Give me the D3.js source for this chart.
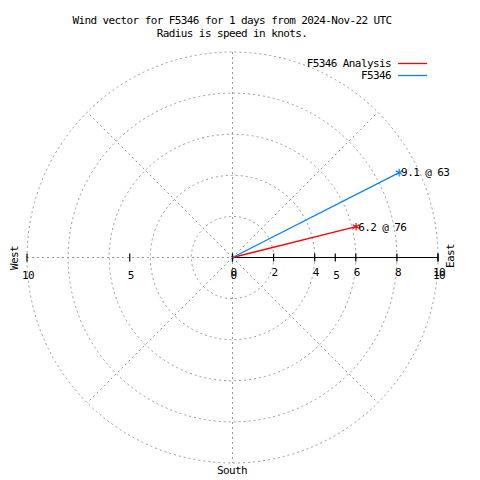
<!DOCTYPE html>
<html><head><meta charset="utf-8">
<script src="https://cdn.jsdelivr.net/npm/d3@7"></script>
<style>
body{margin:0;background:#fff;}
text{font-family:"DejaVu Sans Mono","Liberation Mono",monospace;font-size:11px;letter-spacing:-0.6px;fill:#000;}
</style></head>
<body><svg id="c" width="480" height="480"></svg>
<script>
const titleLines = ["Wind vector for F5346 for 1 days from 2024-Nov-22 UTC", "Radius is speed in knots."];
const seriesNames = ["F5346 Analysis", "F5346"];
const speeds = [6.2, 9.1];
const directions = [76, 63];
const colors = ["#ff0000", "#0a80f0"];
const ringValues = [2, 4, 6, 8, 10];
const rTicks = [0, 2, 4, 6, 8, 10];
const xTicks = [-10, -5, 0, 5, 10];
const spokeAngles = [45, 135, 225, 315];

const svg = d3.select("#c");
const cx = 232.5, cy = 257.5, R = 205.5;
const r = d3.scaleLinear().domain([0, 10]).range([0, R]);
const x = d3.scaleLinear().domain([-10, 10]).range([cx - R, cx + R]);
const g = svg.append("g");
const grid = {stroke: "#999", "stroke-width": 1, "stroke-dasharray": "2,3", fill: "none"};
function sty(sel, o){ for (const k in o) sel.attr(k, o[k]); return sel; }

// rings
ringValues.forEach(v => sty(g.append("circle").attr("cx", cx).attr("cy", cy).attr("r", r(v)), grid));
// spokes
spokeAngles.forEach(a => {
  const t = a * Math.PI / 180;
  sty(g.append("line").attr("x1", cx).attr("y1", cy)
    .attr("x2", cx + r(10) * Math.sin(t)).attr("y2", cy - r(10) * Math.cos(t)), grid);
});
// axes grid lines
sty(g.append("line").attr("x1", x(-10)).attr("y1", cy).attr("x2", cx).attr("y2", cy), grid);
sty(g.append("line").attr("x1", cx).attr("y1", cy - R).attr("x2", cx).attr("y2", cy + R), grid);

// solid r-axis
g.append("line").attr("x1", cx).attr("y1", cy).attr("x2", cx + r(10)).attr("y2", cy)
  .attr("stroke", "#000").attr("stroke-width", 1.2);
rTicks.forEach(v => {
  g.append("line").attr("x1", cx + r(v)).attr("x2", cx + r(v)).attr("y1", cy - 4).attr("y2", cy + 4)
    .attr("stroke", "#000").attr("stroke-width", 1.2);
  g.append("text").attr("x", cx + r(v) + 1).attr("y", cy + 15).attr("dy", "0.35em")
    .attr("text-anchor", "middle").text(v);
});
xTicks.forEach(v => {
  g.append("line").attr("x1", x(v)).attr("x2", x(v)).attr("y1", cy - 4).attr("y2", cy + 4)
    .attr("stroke", "#000").attr("stroke-width", 1.2);
  g.append("text").attr("x", x(v) + 1).attr("y", cy + 18).attr("dy", "0.35em")
    .attr("text-anchor", "middle").text(Math.abs(v));
});

// vectors
speeds.forEach((s, i) => {
  const t = directions[i] * Math.PI / 180;
  const ex = cx + r(s) * Math.sin(t), ey = cy - r(s) * Math.cos(t);
  g.append("line").attr("x1", cx).attr("y1", cy).attr("x2", ex).attr("y2", ey)
    .attr("stroke", colors[i]).attr("stroke-width", 1.3);
  g.append("path").attr("d", d3.symbol(d3.symbolAsterisk, 40)()).attr("transform", `translate(${ex},${ey})`)
    .attr("stroke", colors[i]).attr("stroke-width", 1.2).attr("fill", "none");
  g.append("text").attr("x", ex + 2).attr("y", ey).attr("dy", "0.35em").text(`${s.toFixed(1)} @ ${directions[i]}`);
});

// legend
seriesNames.forEach((n, i) => {
  const ly = 63.5 + i * 12;
  g.append("text").attr("x", 391).attr("y", ly).attr("dy", "0.35em").attr("text-anchor", "end").text(n);
  g.append("line").attr("x1", 398).attr("x2", 427).attr("y1", ly).attr("y2", ly)
    .attr("stroke", colors[i]).attr("stroke-width", 1.3);
});

// titles
titleLines.forEach((t, i) => g.append("text").attr("x", 232).attr("y", 20 + i * 13).attr("dy", "0.35em")
  .attr("text-anchor", "middle").text(t));

// direction labels
g.append("text").attr("transform", `translate(450,256) rotate(-90)`).attr("dy", "0.35em")
  .attr("text-anchor", "middle").text("East");
g.append("text").attr("transform", `translate(14,258) rotate(-90)`).attr("dy", "0.35em")
  .attr("text-anchor", "middle").text("West");
g.append("text").attr("x", 232).attr("y", 470).attr("dy", "0.35em").attr("text-anchor", "middle").text("South");
</script></body></html>
